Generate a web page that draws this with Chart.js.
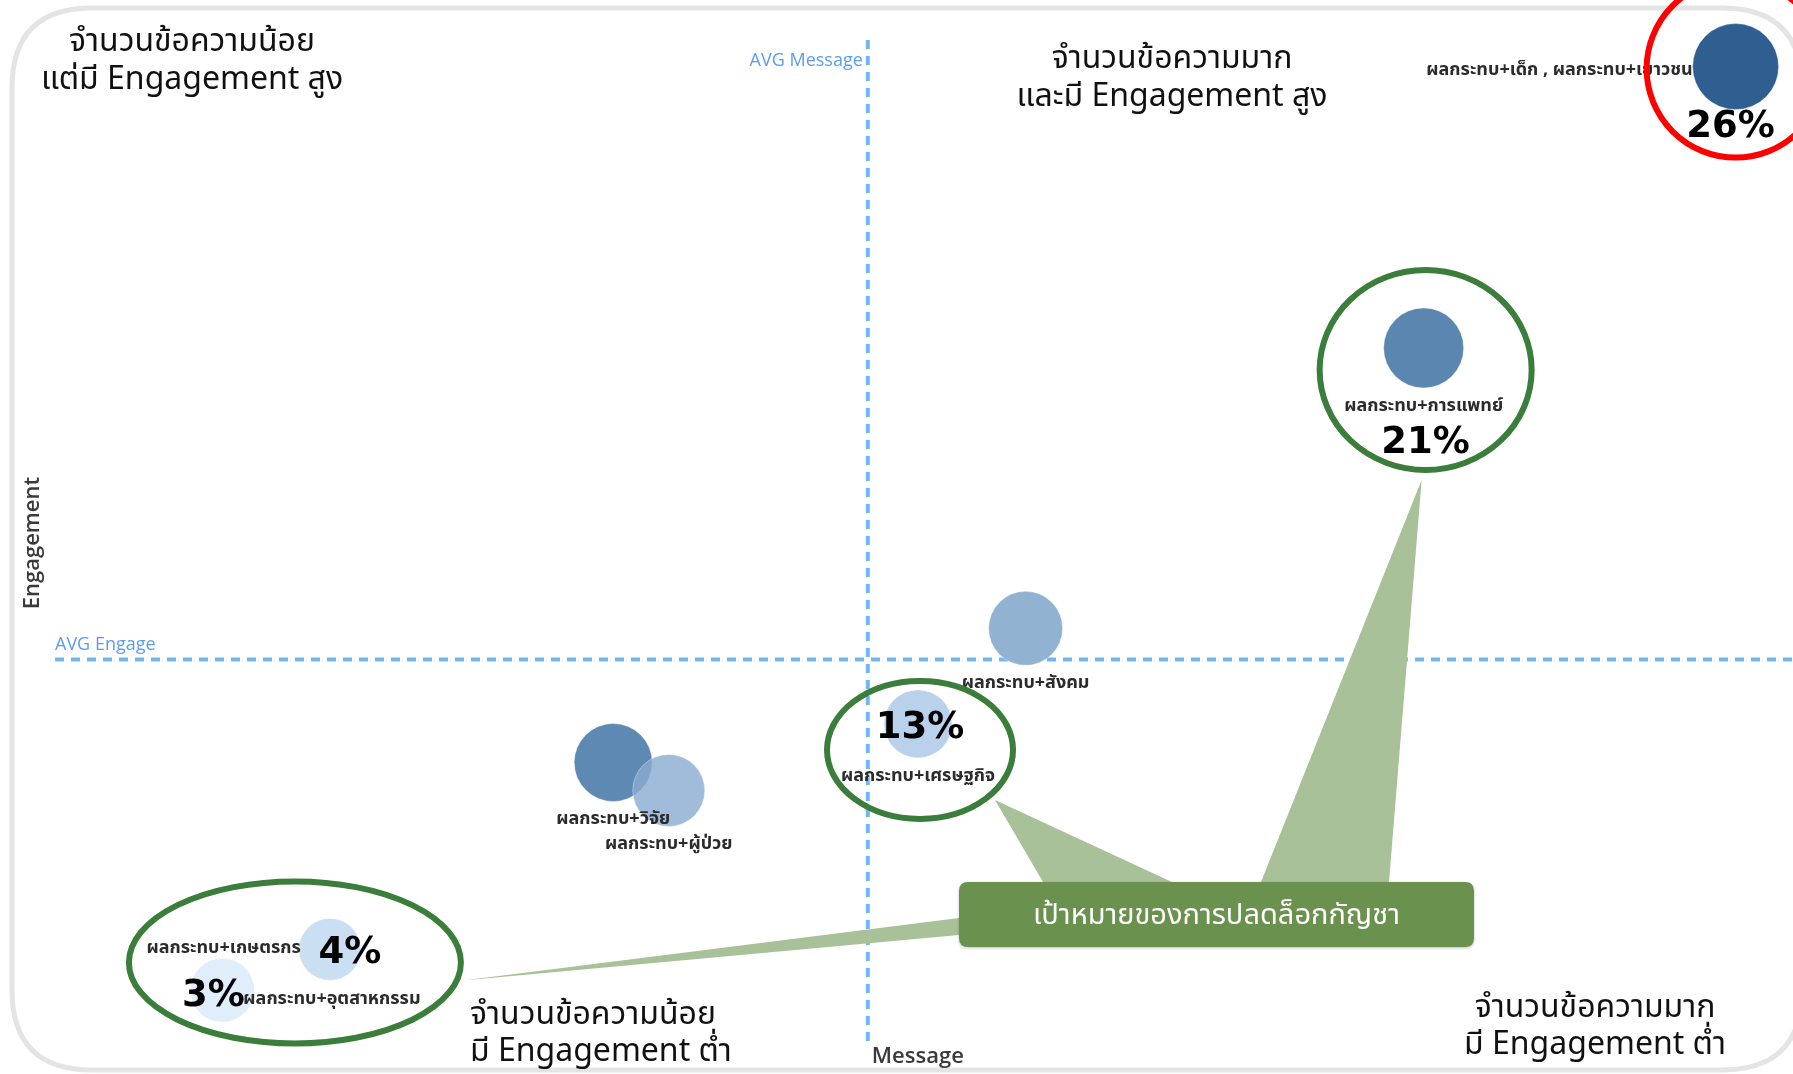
<!DOCTYPE html>
<html>
<head>
<meta charset="utf-8">
<title>Message vs Engagement</title>
<script src="https://cdn.jsdelivr.net/npm/chart.js@4.4.1/dist/chart.umd.min.js"></script>
<style>
    html, body { margin: 0; padding: 0; background: #ffffff; }
    #wrap { width: 1793px; height: 1074px; position: relative; }
</style>
</head>
<body>
<div id="wrap"><canvas id="Chart1"></canvas></div>
<script>
// topics (bubble labels)
const topics = [
    'ผลกระทบ+เด็ก , ผลกระทบ+เยาวชน',
    'ผลกระทบ+การแพทย์',
    'ผลกระทบ+สังคม',
    'ผลกระทบ+เศรษฐกิจ',
    'ผลกระทบ+วิจัย',
    'ผลกระทบ+ผู้ป่วย',
    'ผลกระทบ+เกษตรกร',
    'ผลกระทบ+อุตสาหกรรม'
];
const messageValues = [96.8, 79.4, 57.2, 51.2, 34.2, 37.3, 18.4, 12.4];
const engageValues = [93.8, 67.6, 41.5, 32.6, 29.0, 26.4, 11.6, 7.8];
const bubbleSizes = [43, 40, 37, 34, 39, 36, 31, 32];
const shares = [26, 21, null, 13, null, null, 4, 3];
const avgMessage = 48.4;
const avgEngage = 38.6;

const quadrantTexts = {
    topLeft: ['จำนวนข้อความน้อย', 'แต่มี Engagement สูง'],
    topRight: ['จำนวนข้อความมาก', 'และมี Engagement สูง'],
    bottomLeft: ['จำนวนข้อความน้อย', 'มี Engagement ต่ำ'],
    bottomRight: ['จำนวนข้อความมาก', 'มี Engagement ต่ำ']
};
const calloutText = 'เป้าหมายของการปลดล็อกกัญชา';

const bubbleColors = ['#2f5f90', '#5b86b0', '#92b2d2', '#b9d1ea', 'rgba(82,128,173,0.93)', 'rgba(140,172,210,0.82)', '#cadff2', '#e0edfb'];

const THAI = "Tahoma, 'Noto Sans Thai', 'Leelawadee UI', 'Noto Sans', sans-serif";

function roundRect(ctx, x, y, w, h, r) {
    ctx.beginPath();
    ctx.moveTo(x + r, y);
    ctx.lineTo(x + w - r, y);
    ctx.quadraticCurveTo(x + w, y, x + w, y + r);
    ctx.lineTo(x + w, y + h - r);
    ctx.quadraticCurveTo(x + w, y + h, x + w - r, y + h);
    ctx.lineTo(x + r, y + h);
    ctx.quadraticCurveTo(x, y + h, x, y + h - r);
    ctx.lineTo(x, y + r);
    ctx.quadraticCurveTo(x, y, x + r, y);
    ctx.closePath();
}

function ellipse(ctx, cx, cy, rx, ry, color) {
    ctx.beginPath();
    ctx.ellipse(cx, cy, rx, ry, 0, 0, Math.PI * 2);
    ctx.strokeStyle = color;
    ctx.lineWidth = 6;
    ctx.stroke();
}

function tri(ctx, p1, p2, p3) {
    ctx.beginPath();
    ctx.moveTo(p1[0], p1[1]);
    ctx.lineTo(p2[0], p2[1]);
    ctx.lineTo(p3[0], p3[1]);
    ctx.closePath();
    ctx.fillStyle = '#a9c199';
    ctx.fill();
}

const backgroundPlugin = {
    id: 'background',
    beforeDatasetsDraw(chart) {
        const ctx = chart.ctx;
        const xs = chart.scales.x, ys = chart.scales.y;
        ctx.save();
        // outer frame
        roundRect(ctx, 12, 8, 1790, 1062, 80);
        ctx.strokeStyle = '#e4e4e4';
        ctx.lineWidth = 5;
        ctx.stroke();

        // average lines
        const ax = xs.getPixelForValue(avgMessage);
        const ay = ys.getPixelForValue(avgEngage);
        ctx.strokeStyle = '#74b6f2';
        ctx.lineWidth = 4;
        ctx.setLineDash([9, 7]);
        ctx.beginPath();
        ctx.moveTo(ax, 40);
        ctx.lineTo(ax, 1048);
        ctx.moveTo(55, ay);
        ctx.lineTo(1793, ay);
        ctx.stroke();
        ctx.setLineDash([]);

        ctx.fillStyle = '#5b9cf2';
        ctx.font = "18px 'Open Sans', sans-serif";
        ctx.textBaseline = 'middle';
        ctx.textAlign = 'right';
        ctx.fillText('AVG Message', ax - 5, 61);
        ctx.textAlign = 'left';
        ctx.fillText('AVG Engage', 55, ay - 15);

        // axis titles
        ctx.fillStyle = '#3a3a3a';
        ctx.font = "600 22px 'Open Sans', sans-serif";
        ctx.fillText('Message', ax + 4, 1057);
        ctx.save();
        ctx.translate(33, 543);
        ctx.rotate(-Math.PI / 2);
        ctx.textAlign = 'center';
        ctx.fillText('Engagement', 0, 0);
        ctx.restore();

        // quadrant captions
        ctx.fillStyle = '#111111';
        ctx.font = '32px ' + THAI;
        ctx.textAlign = 'center';
        ctx.fillText(quadrantTexts.topLeft[0], 192, 45);
        ctx.fillText(quadrantTexts.topLeft[1], 192, 83);
        ctx.fillText(quadrantTexts.topRight[0], 1172, 62);
        ctx.fillText(quadrantTexts.topRight[1], 1172, 100);
        ctx.fillText(quadrantTexts.bottomRight[0], 1595, 1011);
        ctx.fillText(quadrantTexts.bottomRight[1], 1595, 1048);
        ctx.textAlign = 'left';
        ctx.fillText(quadrantTexts.bottomLeft[0], 470, 1018);
        ctx.fillText(quadrantTexts.bottomLeft[1], 470, 1055);
        ctx.restore();
    }
};

const annotationPlugin = {
    id: 'annotations',
    afterDatasetsDraw(chart) {
        const ctx = chart.ctx;
        const pts = chart.getDatasetMeta(0).data;
        ctx.save();

        // bubble labels
        ctx.fillStyle = '#2b2b2b';
        ctx.font = 'bold 18px ' + THAI;
        ctx.textBaseline = 'middle';
        pts.forEach(function (p, i) {
            const r = bubbleSizes[i];
            if (i === 0) {
                ctx.textAlign = 'right';
                ctx.fillText(topics[i], p.x - r, p.y + 5);
            } else if (i === 6) {
                ctx.textAlign = 'right';
                ctx.fillText(topics[i], p.x - r + 2, p.y);
            } else if (i === 7) {
                ctx.textAlign = 'left';
                ctx.fillText(topics[i], p.x + 21, p.y + 10);
            } else {
                ctx.textAlign = 'center';
                ctx.fillText(topics[i], p.x, p.y + r + 19);
            }
        });

        // call-out pointers
        const med = pts[1], eco = pts[3], farm = pts[6];
        const box = {x: 959, y: 882, w: 515, h: 65};
        tri(ctx, [med.x - 2, med.y + 132], [box.x + 302, box.y], [box.x + 430, box.y]);
        tri(ctx, [eco.x + 77, eco.y + 76], [box.x + 84, box.y], [box.x + 213, box.y]);
        tri(ctx, [farm.x + 133, farm.y + 31], [box.x, box.y + 36], [box.x, box.y + 53]);

        // highlight rings
        ellipse(ctx, med.x + 2, med.y + 22, 106, 100, '#3b7d3a');
        ellipse(ctx, eco.x + 2, eco.y + 26, 93, 69, '#3b7d3a');
        ellipse(ctx, farm.x - 35, farm.y + 13, 166, 81, '#3b7d3a');
        ellipse(ctx, pts[0].x, pts[0].y + 2, 89, 89, '#ff0000');

        // share labels
        ctx.fillStyle = '#000000';
        ctx.font = "bold 37px 'DejaVu Sans', sans-serif";
        ctx.textAlign = 'center';
        const offs = [[-5, 61], [2, 95], null, [2, 5], null, null, [20, 4], [-9, 6]];
        pts.forEach(function (p, i) {
            if (shares[i] === null) return;
            ctx.fillText(shares[i] + '%', p.x + offs[i][0], p.y + offs[i][1]);
        });

        // call-out box
        ctx.shadowColor = 'rgba(0,0,0,0.25)';
        ctx.shadowBlur = 3;
        ctx.shadowOffsetY = 1;
        roundRect(ctx, box.x, box.y, box.w, box.h, 9);
        ctx.fillStyle = '#6a914d';
        ctx.fill();
        ctx.shadowColor = 'transparent';
        ctx.fillStyle = '#ffffff';
        ctx.font = '29px ' + THAI;
        ctx.fillText(calloutText, box.x + box.w / 2, box.y + box.h / 2 + 4);
        ctx.restore();
    }
};

function createBubbleChart() {
    const ctx = document.getElementById('Chart1').getContext('2d');
    const points = messageValues.map(function (m, i) {
        return {x: m, y: engageValues[i], r: bubbleSizes[i]};
    });
    new Chart(ctx, {
        type: 'bubble',
        data: {
            labels: topics,
            datasets: [{
                label: 'Topics',
                data: points,
                backgroundColor: bubbleColors,
                borderColor: 'rgba(255,255,255,0.35)',
                borderWidth: 1,
                clip: false
            }]
        },
        options: {
            responsive: true,
            maintainAspectRatio: false,
            animation: false,
            layout: {padding: 0, autoPadding: false},
            plugins: {
                legend: {display: false},
                tooltip: {enabled: false}
            },
            scales: {
                x: {display: false, min: 0, max: 100},
                y: {display: false, min: 0, max: 100}
            }
        },
        plugins: [backgroundPlugin, annotationPlugin]
    });
}

window.onload = function () {
    createBubbleChart();
};
</script>
</body>
</html>
